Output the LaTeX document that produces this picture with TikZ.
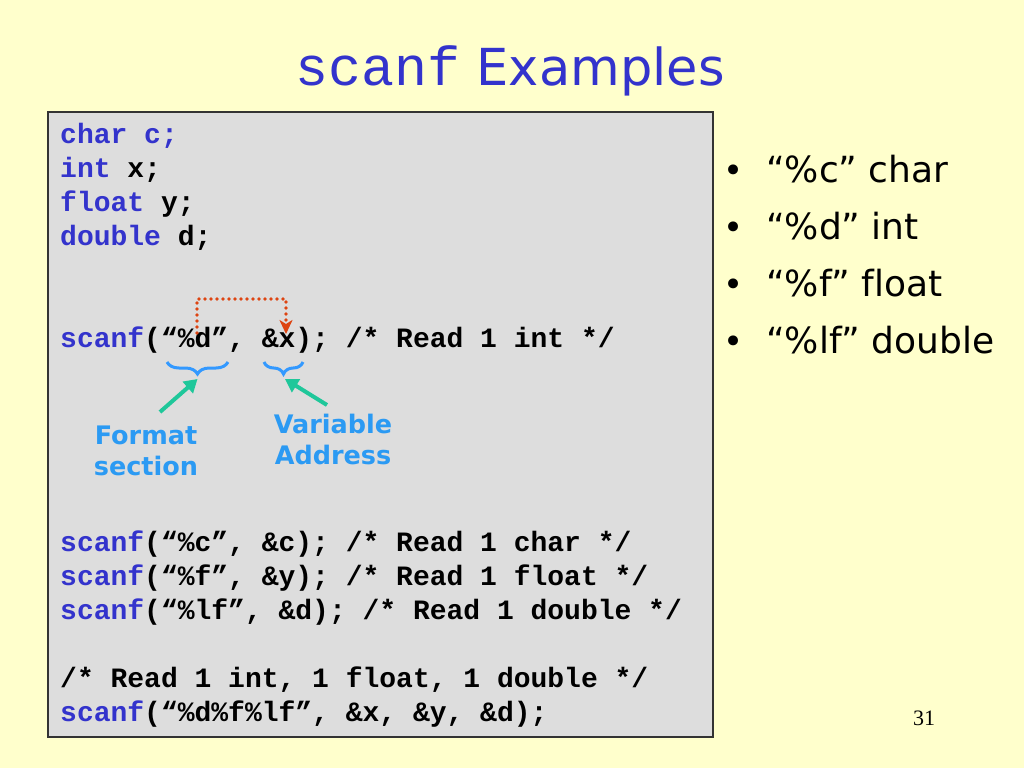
\documentclass[tikz,border=0pt]{standalone}
\usepackage{fontspec}
\usetikzlibrary{arrows.meta,decorations.pathreplacing,calc}
\setmainfont{DejaVu Sans}[Ligatures=NoCommon]
\newfontfamily\codefont{Liberation Mono}
\newfontfamily\numfont{Liberation Serif}
\definecolor{bgyellow}{HTML}{FFFFCC}
\definecolor{boxgray}{HTML}{DDDDDD}
\definecolor{boxline}{HTML}{333333}
\definecolor{codeblue}{HTML}{3333CC}
\definecolor{lblblue}{HTML}{2B9AF3}
\definecolor{braceblue}{HTML}{3399FF}
\definecolor{arrgreen}{HTML}{1FC79A}
\definecolor{dotred}{HTML}{DD4411}
\tikzset{
  codeline/.style={font=\codefont\bfseries\fontsize{28}{34}\selectfont, anchor=base west, inner sep=0pt, text=black},
  bultext/.style={font=\fontsize{36}{44}\selectfont, anchor=base west, inner sep=0pt, text=black},
  buldot/.style={font=\fontsize{34}{40}\selectfont, anchor=base, inner sep=0pt, text=black},
  lbl/.style={font=\bfseries\fontsize{25.5}{31}\selectfont, align=center, text=lblblue, inner sep=0pt},
  bracedeco/.style={draw=braceblue, line width=3pt, decorate, decoration={brace, amplitude=12pt}},
  greenarr/.style={draw=arrgreen, line width=4pt, -{Triangle[length=13pt,width=15pt]}},
  reddots/.style={draw=dotred, line width=3.6pt, line cap=round, dash pattern=on 0pt off 6pt, -{Stealth[length=14pt,width=13pt,inset=4pt]}}
}
\begin{document}
\begin{tikzpicture}[x=1pt,y=-1pt]
\fill[bgyellow] (0,0) rectangle (1024,768);
\useasboundingbox (0,0) rectangle (1024,768);

% title
\node[anchor=base, inner sep=0pt, text=codeblue, font=\fontsize{51}{60}\selectfont] (title) at (510,85) {{\codefont\fontsize{55}{60}\selectfont scanf} Examples};

% code box
\node[draw=boxline, line width=1.5pt, fill=boxgray, anchor=north west, minimum width=665pt, minimum height=625pt, inner sep=0pt] (codebox) at (47,111) {};

\node[codeline] (l0) at (60,143) {\textcolor{codeblue}{char c;}};
\node[codeline] (l1) at (60,177) {\textcolor{codeblue}{int} x;};
\node[codeline] (l2) at (60,211) {\textcolor{codeblue}{float} y;};
\node[codeline] (l3) at (60,245) {\textcolor{codeblue}{double} d;};
\node[codeline] (l6) at (60,347) {\textcolor{codeblue}{scanf}(“\%d”, \&x); /* Read 1 int */};
\node[codeline] (l12) at (60,551) {\textcolor{codeblue}{scanf}(“\%c”, \&c); /* Read 1 char */};
\node[codeline] (l13) at (60,585) {\textcolor{codeblue}{scanf}(“\%f”, \&y); /* Read 1 float */};
\node[codeline] (l14) at (60,619) {\textcolor{codeblue}{scanf}(“\%lf”, \&d); /* Read 1 double */};
\node[codeline] (l16) at (60,687) {/* Read 1 int, 1 float, 1 double */};
\node[codeline] (l17) at (60,721) {\textcolor{codeblue}{scanf}(“\%d\%f\%lf”, \&x, \&y, \&d);};

% red dotted arrow from format to address
\coordinate (rs) at (197,333);
\coordinate (rt) at (286,334);
\draw[reddots] (rs) -- ++(0,-34) -| (rt);

% braces
\coordinate (b1l) at (167,362);
\coordinate (b1r) at (228,362);
\coordinate (b2l) at (264,362);
\coordinate (b2r) at (303,362);
\draw[bracedeco] (b1r) -- (b1l);
\draw[bracedeco] (b2r) -- (b2l);
\coordinate (tip1) at (197.5,379);
\coordinate (tip2) at (285,379);

% labels
\node[lbl] (fmt) at (146,451) {Format\\section};
\node[lbl] (var) at (333,439) {Variable\\Address};

\coordinate (g1) at (160,412);
\coordinate (g2) at (327,405);
\draw[greenarr] (g1) -- (tip1);
\draw[greenarr] (g2) -- (tip2);

% bullets
\node[buldot] (d1) at (734,182) {•};
\node[buldot] (d2) at (734,239) {•};
\node[buldot] (d3) at (734,296) {•};
\node[buldot] (d4) at (734,353) {•};
\node[bultext] (t1) at (766,182) {“\%c” char};
\node[bultext] (t2) at (766,239) {“\%d” int};
\node[bultext] (t3) at (766,296) {“\%f” float};
\node[bultext] (t4) at (766,353) {“\%lf” double};

% page number
\node[font=\numfont\fontsize{22}{26}\selectfont, anchor=base, inner sep=0pt] (pg) at (924,725) {31};
\end{tikzpicture}
\end{document}
